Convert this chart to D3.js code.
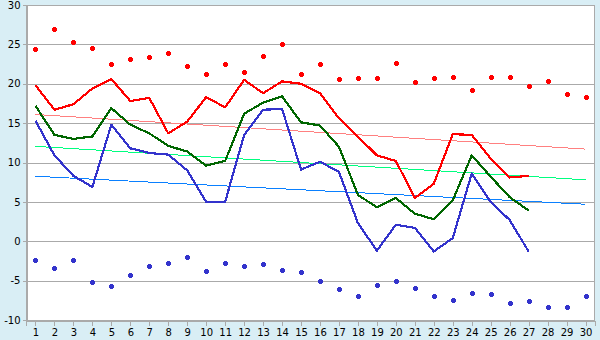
<!DOCTYPE html>
<html>
<head>
<meta charset="utf-8">
<script src="https://cdn.jsdelivr.net/npm/d3@7"></script>
<style>
  html, body { margin: 0; padding: 0; background: #d9eef5; }
  svg { display: block; }
  .tick text { font-family: "DejaVu Sans", Verdana, sans-serif; font-size: 10px; fill: #000; }
</style>
</head>
<body>
<svg id="chart" width="600" height="340"></svg>
<script>
// Days of the month
const days = d3.range(1, 31);

// Daily extremes (markers)
const maxPoints = [24.4, 27.0, 25.3, 24.6, 22.5, 23.2, 23.4, 23.9, 22.2, 21.2,
                   22.5, 21.5, 23.5, 25.1, 21.2, 22.5, 20.6, 20.7, 20.7, 22.6,
                   20.2, 20.7, 20.9, 19.2, 20.8, 20.9, 19.7, 20.3, 18.7, 18.3];
const minPoints = [-2.4, -3.4, -2.4, -5.2, -5.7, -4.3, -3.2, -2.8, -2.0, -3.8,
                   -2.8, -3.2, -2.9, -3.6, -3.9, -5.0, -6.0, -6.9, -5.5, -5.0,
                   -5.9, -7.0, -7.5, -6.6, -6.7, -7.8, -7.6, -8.3, -8.3, -6.9];

// Daily series (days 1–27)
const highSeries = [19.8, 16.7, 17.4, 19.4, 20.6, 17.8, 18.2, 13.7, 15.2, 18.3,
                    17.0, 20.5, 18.8, 20.3, 20.0, 18.8, 15.6, 13.3, 10.9, 10.2,
                    5.5, 7.3, 13.6, 13.5, 10.5, 8.1, 8.3];
const meanSeries = [17.2, 13.5, 13.0, 13.3, 16.9, 14.8, 13.7, 12.1, 11.4, 9.6,
                    10.2, 16.2, 17.6, 18.4, 15.1, 14.7, 12.0, 5.9, 4.3, 5.5,
                    3.5, 2.8, 5.2, 10.9, 8.2, 5.6, 3.9];
const lowSeries  = [15.3, 10.9, 8.3, 6.9, 14.8, 11.8, 11.2, 11.0, 9.0, 5.0,
                    5.0, 13.5, 16.7, 16.8, 9.1, 10.1, 8.8, 2.3, -1.2, 2.1,
                    1.7, -1.3, 0.4, 8.6, 5.0, 2.7, -1.3];

// Trend lines: value on day 1 and on day 30
const trendDays = [1, 30];
const highTrend = [16.1, 11.7];
const meanTrend = [12.05, 7.8];
const lowTrend  = [8.25, 4.7];

const yTicks = d3.range(-10, 31, 5);

const svg = d3.select("#chart");
const plotLeft = 26, plotRight = 595, plotTop = 5, plotBottom = 320;

const x = d3.scalePoint().domain(days).range([plotLeft, plotRight]).padding(0.5);
const y = d3.scaleLinear().domain([-10, 30]).range([plotBottom, plotTop]);

// Plot area
svg.append("rect")
  .attr("x", plotLeft).attr("y", plotTop)
  .attr("width", plotRight - plotLeft).attr("height", plotBottom - plotTop)
  .attr("fill", "#fff");

// Horizontal grid
svg.append("g").selectAll("line").data(yTicks).join("line")
  .attr("x1", plotLeft).attr("x2", plotRight)
  .attr("y1", d => Math.round(y(d)) + 0.5).attr("y2", d => Math.round(y(d)) + 0.5)
  .attr("stroke", "#aaaaaa").attr("stroke-width", 1)
  .attr("shape-rendering", "crispEdges");

// Plot border
svg.append("rect")
  .attr("x", plotLeft + 0.5).attr("y", plotTop + 0.5)
  .attr("width", plotRight - plotLeft - 1).attr("height", plotBottom - plotTop)
  .attr("fill", "none").attr("stroke", "#aaaaaa")
  .attr("shape-rendering", "crispEdges");

// Axes (plain hyphen for negative labels)
const yAxis = svg.append("g")
  .attr("transform", `translate(${plotLeft + 0.5},0)`)
  .call(d3.axisLeft(y).tickValues(yTicks).tickFormat(d => String(d)).tickSize(4).tickPadding(2));
const xAxis = svg.append("g")
  .attr("transform", `translate(0,${plotBottom + 0.5})`)
  .call(d3.axisBottom(x).tickSize(5).tickPadding(3));
[yAxis, xAxis].forEach(g => {
  g.select(".domain").attr("stroke", "#aaaaaa").attr("shape-rendering", "crispEdges");
  g.selectAll(".tick line").attr("stroke", "#aaaaaa").attr("shape-rendering", "crispEdges");
});

// Trend lines
const trendLine = d3.line().x((d, i) => x(trendDays[i])).y(d => y(d));
[[highTrend, "#ff8080"], [meanTrend, "#00ff80"], [lowTrend, "#0a80ff"]].forEach(([vals, color]) => {
  svg.append("path").datum(vals)
    .attr("d", trendLine)
    .attr("fill", "none").attr("stroke", color).attr("stroke-width", 1)
    .attr("shape-rendering", "crispEdges");
});

// Daily series lines
const seriesLine = d3.line().x((d, i) => x(days[i])).y(d => y(d));
[[highSeries, "#ff0000"], [meanSeries, "#006600"], [lowSeries, "#3333cc"]].forEach(([vals, color]) => {
  svg.append("path").datum(vals)
    .attr("d", seriesLine)
    .attr("fill", "none").attr("stroke", color).attr("stroke-width", 2.2)
    .attr("stroke-linejoin", "round")
    .attr("shape-rendering", "crispEdges");
});

// Extreme markers (small plus-shaped diamonds)
function markers(vals, color) {
  const g = svg.append("g").attr("fill", color).attr("shape-rendering", "crispEdges");
  vals.forEach((v, i) => {
    const cx = Math.round(x(days[i])), cy = Math.round(y(v));
    g.append("rect").attr("x", cx - 2).attr("y", cy - 1).attr("width", 5).attr("height", 3);
    g.append("rect").attr("x", cx - 1).attr("y", cy - 2).attr("width", 3).attr("height", 5);
  });
}
markers(maxPoints, "#ff0000");
markers(minPoints, "#3333cc");
</script>
</body>
</html>
